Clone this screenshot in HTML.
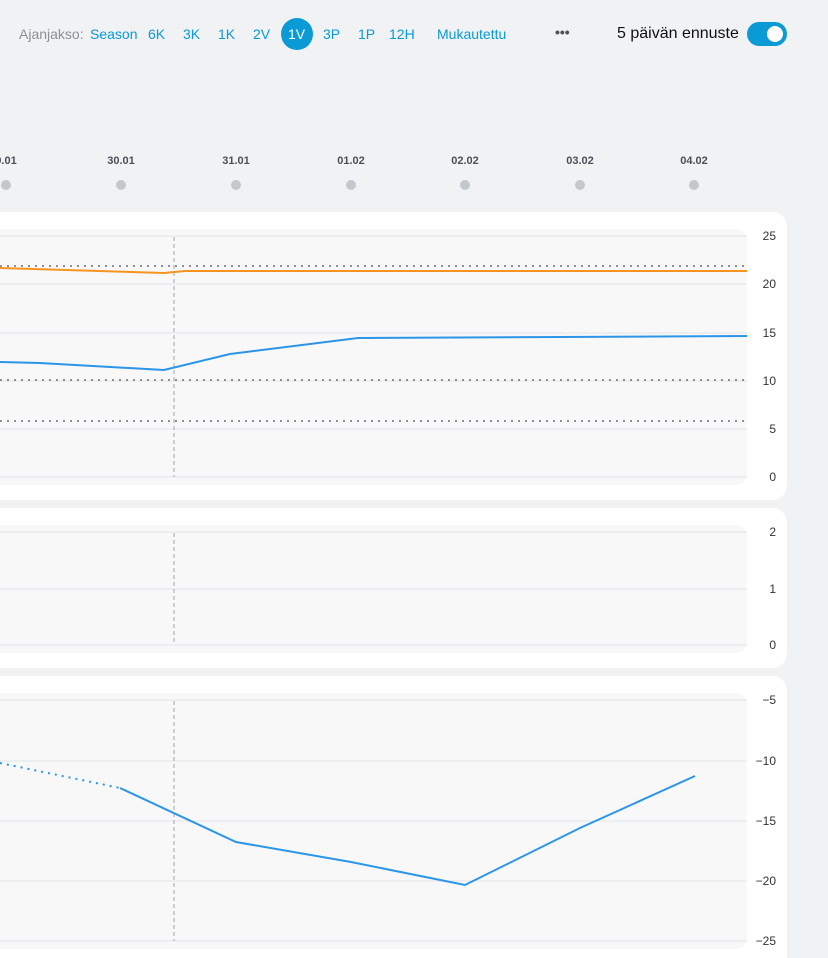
<!DOCTYPE html>
<html><head><style>
body{margin:0;width:828px;height:958px;background:#f1f2f4;font-family:"Liberation Sans",sans-serif;overflow:hidden;position:relative}
.t{position:absolute;font-size:14px;color:#0a9ad6;top:26px}
.card{position:absolute;left:-20px;width:807px;background:#fff;border-radius:14px}
</style></head><body>
<span class="t" style="left:19px;color:#8a9098">Ajanjakso:</span>
<span class="t" style="left:90px">Season</span>
<span class="t" style="left:148px">6K</span>
<span class="t" style="left:183px">3K</span>
<span class="t" style="left:218px">1K</span>
<span class="t" style="left:253px">2V</span>
<div style="position:absolute;left:281px;top:18px;width:32px;height:32px;border-radius:50%;background:#0a9ad6"></div>
<span class="t" style="left:288px;color:#fff">1V</span>
<span class="t" style="left:323px">3P</span>
<span class="t" style="left:358px">1P</span>
<span class="t" style="left:389px">12H</span>
<span class="t" style="left:437px">Mukautettu</span>
<span class="t" style="left:555px;color:#4a5058;font-weight:bold;top:24px">•••</span>
<span class="t" style="left:617px;color:#111;font-size:16px;top:25px">5 päivän ennuste</span>
<div style="position:absolute;left:747px;top:22px;width:40px;height:24px;border-radius:12px;background:#0a9ad6"><div style="position:absolute;right:4px;top:4px;width:16px;height:16px;border-radius:50%;background:#fff"></div></div>
<svg width="828" height="958" style="position:absolute;left:0;top:0" font-family="Liberation Sans,sans-serif">
<g font-size="11" font-weight="bold" fill="#4a5058" text-anchor="middle">
<text x="6" y="164">9.01</text><text x="121" y="164">30.01</text><text x="236" y="164">31.01</text><text x="351" y="164">01.02</text><text x="465" y="164">02.02</text><text x="580" y="164">03.02</text><text x="694" y="164">04.02</text></g>
<g fill="#c4c7cb"><circle cx="6" cy="185" r="5"/><circle cx="121" cy="185" r="5"/><circle cx="236" cy="185" r="5"/><circle cx="351" cy="185" r="5"/><circle cx="465" cy="185" r="5"/><circle cx="580" cy="185" r="5"/><circle cx="694" cy="185" r="5"/></g>
<!-- cards -->
<rect x="-20" y="212" width="807" height="288" rx="14" fill="#fff"/>
<rect x="-20" y="508" width="807" height="160" rx="14" fill="#fff"/>
<rect x="-20" y="676" width="807" height="300" rx="14" fill="#fff"/>
<rect x="-10" y="229" width="757" height="256" rx="10" fill="#f8f8f9"/>
<rect x="-10" y="525" width="757" height="128" rx="10" fill="#f8f8f9"/>
<rect x="-10" y="693" width="757" height="256" rx="10" fill="#f8f8f9"/>
<g stroke="#e2e3e5" stroke-width="1">
<line x1="0" x2="747" y1="236" y2="236"/><line x1="0" x2="747" y1="284" y2="284"/><line x1="0" x2="747" y1="333" y2="333"/><line x1="0" x2="747" y1="381" y2="381"/><line x1="0" x2="747" y1="429" y2="429"/><line x1="0" x2="747" y1="477" y2="477"/>
<line x1="0" x2="747" y1="532" y2="532"/><line x1="0" x2="747" y1="589" y2="589"/><line x1="0" x2="747" y1="645" y2="645"/>
<line x1="0" x2="747" y1="700" y2="700"/><line x1="0" x2="747" y1="761" y2="761"/><line x1="0" x2="747" y1="821" y2="821"/><line x1="0" x2="747" y1="881" y2="881"/><line x1="0" x2="747" y1="941" y2="941"/></g>
<g stroke="#8a9098" stroke-width="2" stroke-dasharray="2,5">
<line x1="0" x2="747" y1="266" y2="266"/><line x1="0" x2="747" y1="380" y2="380"/><line x1="0" x2="747" y1="421" y2="421"/></g>
<g stroke="#a0a4a8" stroke-width="1" stroke-dasharray="4,3">
<line x1="174" x2="174" y1="237" y2="477"/><line x1="174" x2="174" y1="533" y2="643"/><line x1="174" x2="174" y1="701" y2="941"/></g>
<polyline fill="none" stroke="#f7931e" stroke-width="2" points="0,268 164,273 185,271 747,271"/>
<polyline fill="none" stroke="#2b95e8" stroke-width="2" points="0,362 40,363 164,370 230,354 358,338 747,336"/>
<polyline fill="none" stroke="#2b95e8" stroke-width="2" stroke-dasharray="2,5" points="0,763 120,788"/>
<polyline fill="none" stroke="#2b95e8" stroke-width="2" points="120,788 236,842 351,862 465,885 580,828 695,776"/>
<g font-size="12" fill="#333" text-anchor="end">
<text x="776" y="240">25</text><text x="776" y="288">20</text><text x="776" y="337">15</text><text x="776" y="385">10</text><text x="776" y="433">5</text><text x="776" y="481">0</text>
<text x="776" y="536">2</text><text x="776" y="593">1</text><text x="776" y="649">0</text>
<text x="776" y="704">−5</text><text x="776" y="765">−10</text><text x="776" y="825">−15</text><text x="776" y="885">−20</text><text x="776" y="945">−25</text></g>
</svg>
</body></html>
